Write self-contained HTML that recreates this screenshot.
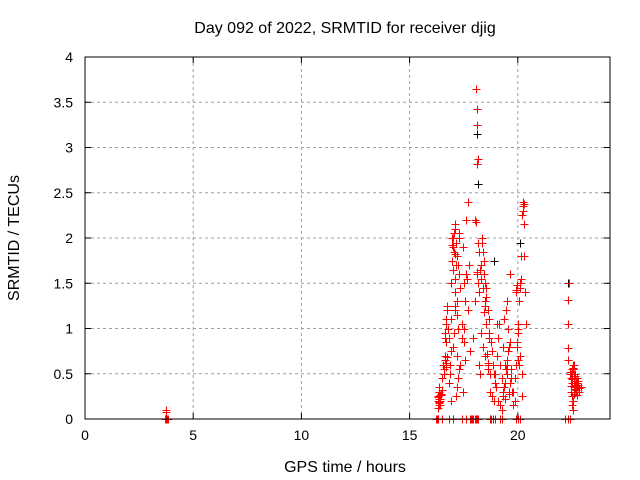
<!DOCTYPE html>
<html><head><meta charset="utf-8"><style>
html,body{margin:0;padding:0;background:#fff;}
svg{display:block;font-family:"Liberation Sans",sans-serif;}
</style></head><body>
<svg id="chart" width="640" height="480">
<rect width="640" height="480" fill="#fff"/>
<text x="345" y="33" font-size="16" text-anchor="middle">Day 092 of 2022, SRMTID for receiver djig</text>
<text x="345" y="472" font-size="16" text-anchor="middle">GPS time / hours</text>
<text transform="translate(19,238) rotate(-90)" font-size="16" text-anchor="middle">SRMTID / TECUs</text>
<g id="grid"></g><g id="marks"></g><g id="axes"></g>
</svg>
<script>
const xTicks=[0,5,10,15,20];
const yTicks=[0,0.5,1,1.5,2,2.5,3,3.5,4];
const yTickLabels=["0","0.5","1","1.5","2","2.5","3","3.5","4"];
const redTimes=[3.72,3.75,3.7,3.75,3.8,3.85,
16.2,16.25,16.3,16.5,16.8,17.0,17.4,17.6,17.8,17.85,17.9,17.95,18.0,18.05,18.1,18.15,18.7,18.75,18.85,18.95,19.2,19.25,19.9,20.0,20.1,22.2,22.3,22.4,
16.3,16.32,16.35,16.38,16.4,16.42,16.45,16.3,16.36,16.4,16.33,16.45,16.5,16.55,16.48,16.34,16.38,16.42,16.37,
16.6,16.62,16.65,16.7,16.75,16.6,16.68,16.72,16.65,16.7,16.8,16.85,16.9,16.78,16.82,16.62,16.66,16.7,16.74,
16.9,16.95,17.0,17.05,17.1,17.15,17.2,17.0,17.1,17.2,17.25,16.95,17.05,17.15,17.3,17.35,16.98,17.02,17.08,17.12,
17.0,17.05,16.9,17.1,17.2,17.3,17.4,17.45,17.5,17.55,17.6,17.5,17.35,17.45,17.6,17.7,17.18,17.22,17.28,
17.3,17.4,17.5,17.65,17.75,17.8,17.7,17.2,17.25,17.15,17.35,16.9,16.85,17.55,17.12,17.08,17.28,
18.05,18.1,18.12,18.15,18.1,18.05,18.0,18.15,18.2,18.1,18.0,17.95,18.2,18.25,18.12,18.18,
18.2,18.3,18.35,18.4,18.45,18.5,18.55,18.6,18.65,18.3,18.4,18.5,18.6,18.7,18.35,18.45,18.42,18.48,18.52,
18.55,18.65,18.75,18.8,18.85,18.9,18.95,18.5,18.6,18.7,18.8,18.4,18.3,18.25,18.9,19.0,18.58,18.62,18.68,
18.95,19.05,19.1,19.15,19.2,19.25,19.3,19.1,19.2,19.3,19.35,19.4,19.45,19.5,19.55,19.6,19.42,19.48,19.52,19.58,
19.35,19.45,19.55,19.65,19.5,19.6,19.4,19.3,19.25,19.7,19.75,19.5,19.65,19.05,19.62,19.68,
19.8,19.85,19.9,19.95,20.0,20.05,20.1,20.15,20.2,20.25,20.3,19.9,20.0,20.1,20.2,19.85,19.92,19.98,20.02,
20.0,20.1,20.25,20.3,20.35,20.05,19.95,20.15,20.3,20.4,19.8,20.2,20.22,20.28,
22.3,22.32,22.3,22.35,22.3,22.4,22.45,22.5,22.55,22.6,22.65,22.7,22.75,22.8,22.45,22.5,
22.55,22.6,22.65,22.7,22.5,22.55,22.6,22.65,22.4,22.5,22.6,22.7,22.75,22.8,22.85,22.9,22.55,22.6,22.5,
22.48,22.52,22.58,22.62,22.68,22.72,22.78,22.82,22.46,22.54,22.64];
const redValues=[0.1,0.08,0,0,0,0,
0,0,0,0,0,0,0,0,0,0,0,0,0,0,0,0,0,0,0,0,0,0,0,0,0,0,0,0,
0.2,0.25,0.18,0.3,0.22,0.15,0.28,0.12,0.35,0.2,0.24,0.26,0.45,0.6,0.32,0.22,0.19,0.27,0.16,
0.5,0.7,0.95,1.1,1.25,0.55,0.85,1.2,0.65,1.05,0.4,0.6,0.75,1.0,0.9,0.9,0.58,0.62,0.68,
1.5,1.75,1.9,2.05,2.1,1.95,1.8,1.65,1.55,1.3,1.0,2.0,1.85,1.7,1.6,1.45,1.92,2.0,1.82,2.15,
0.8,0.95,1.1,1.2,0.7,0.55,1.05,0.3,0.85,1.3,1.6,1.0,1.45,1.9,2.2,2.4,1.15,1.7,1.6,
2.05,0.9,1.5,1.55,1.7,0.75,1.2,0.35,0.45,0.25,0.6,0.2,0.5,0.65,1.4,1.25,2.0,
3.65,3.43,3.25,2.87,2.82,2.18,2.2,1.95,1.85,1.6,1.3,0.9,0.6,0.5,1.62,1.5,
1.4,1.7,1.95,1.85,1.6,1.5,1.35,1.2,1.1,0.95,0.8,0.7,0.6,0.5,2.0,1.75,1.18,1.3,1.45,
1.05,0.9,0.85,0.75,0.6,0.5,0.4,1.25,0.55,0.3,0.25,1.45,1.55,1.65,0.2,0.35,0.72,0.62,0.95,
0.5,0.7,0.9,1.05,0.6,0.45,0.3,0.2,0.15,0.25,0.35,0.4,0.55,0.65,0.75,0.8,0.22,0.5,0.6,0.28,
1.1,1.2,1.0,0.85,0.5,0.3,0.6,0.8,0.1,0.45,0.3,1.3,1.6,1.05,0.4,0.55,
0.3,0.45,0.6,0.8,1.0,1.3,1.5,1.8,2.25,2.4,2.38,1.4,1.05,0.7,0.25,0.2,1.42,1.48,0.65,
0.95,1.45,2.3,2.15,1.4,0.6,0.85,1.55,1.8,1.05,0.15,0.5,2.35,1.8,
1.31,1.05,0.78,1.5,0.65,0.5,0.45,0.55,0.6,0.4,0.38,0.32,0.45,0.35,0.3,0.25,
0.2,0.35,0.5,0.42,0.15,0.1,0.28,0.48,0.52,0.4,0.3,0.37,0.4,0.42,0.3,0.35,0.55,0.6,0.45,
0.36,0.44,0.5,0.33,0.42,0.27,0.38,0.34,0.5,0.56,0.47];
const blackTimes=[18.15,18.12,20.1,22.3,18.9];
const blackValues=[2.6,3.15,1.95,1.5,1.75];

const L=85,R=610,T=57,B=419,XMAX=24.26,YMAX=4;
const sx=v=>L+v/XMAX*(R-L), sy=v=>B-v/YMAX*(B-T);
const NS="http://www.w3.org/2000/svg";
function mk(tag,attrs,parent){const e=document.createElementNS(NS,tag);for(const k in attrs)e.setAttribute(k,attrs[k]);parent.appendChild(e);return e;}
const grid=document.getElementById('grid'),axes=document.getElementById('axes'),marks=document.getElementById('marks');
xTicks.forEach(t=>{const x=sx(t);
 if(t>0){const g=mk('line',{x1:x,x2:x,y1:T,y2:B,stroke:'#a0a0a0','stroke-dasharray':'3,3'},grid);
 
 }
 mk('line',{x1:x,x2:x,y1:B,y2:B-6,stroke:'#000'},axes);mk('line',{x1:x,x2:x,y1:T,y2:T+6,stroke:'#000'},axes);
 const tx=mk('text',{x:x,y:B+21,'font-size':14,'text-anchor':'middle'},axes);tx.textContent=t;
 
 });
yTicks.forEach((t,i)=>{const y=sy(t);
 if(t>0&&t<YMAX){const g=mk('line',{x1:L,x2:R,y1:y,y2:y,stroke:'#a0a0a0','stroke-dasharray':'3,3'},grid);
 
 }
 mk('line',{x1:L,x2:L+6,y1:y,y2:y,stroke:'#000'},axes);mk('line',{x1:R,x2:R-6,y1:y,y2:y,stroke:'#000'},axes);
 const tx=mk('text',{x:L-12,y:y+5,'font-size':14,'text-anchor':'end'},axes);tx.textContent=yTickLabels[i];
 
 });
const fr=mk('rect',{x:L,y:T,width:R-L,height:B-T,fill:'none',stroke:'#000'},axes);


function plus(h,v,c){const x=Math.round(sx(h))+0.5,y=Math.round(sy(v))+0.5;
 const p=mk('path',{d:`M${x-4},${y}H${x+4}M${x},${y-4}V${y+4}`,stroke:c,'stroke-width':1,fill:'none'},marks);
 
 }
blackTimes.forEach((h,i)=>plus(h,blackValues[i],'#000'));
redTimes.forEach((h,i)=>plus(h,redValues[i],'#f00'));
</script>
</body></html>
